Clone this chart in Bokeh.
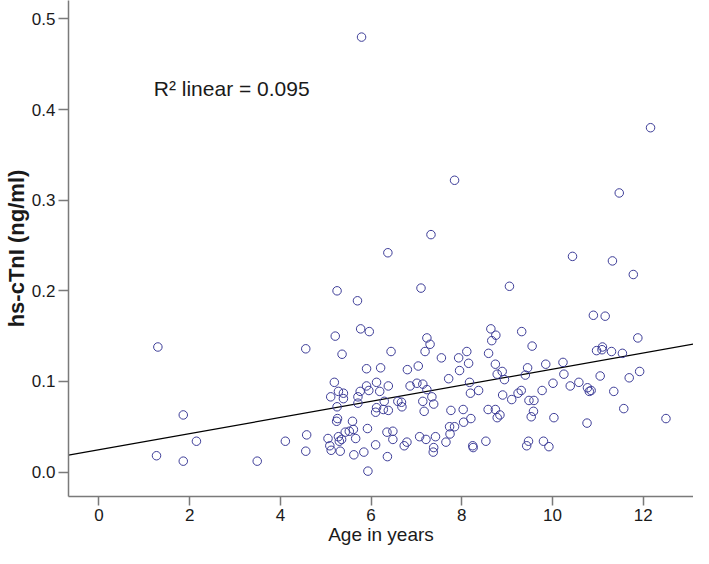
from bokeh.plotting import figure
from bokeh.models import Range1d, FixedTicker, Label, ColumnDataSource
from bokeh.embed import file_html
from bokeh.resources import INLINE
import numpy as np

# ---- data ----
age = [
    1.27, 1.30, 1.86, 1.86, 2.15, 3.49, 4.11,
    5.25, 5.70, 5.77, 5.96, 5.21, 4.56, 5.36, 6.44, 7.23, 7.30, 7.19, 5.90, 6.21,
    6.80, 7.04, 5.19, 6.12, 6.38, 5.90, 5.95, 5.76, 6.19, 5.28, 5.39, 5.11, 5.39,
    5.71, 6.86, 7.01, 7.14, 7.23, 7.34, 6.29, 6.59, 6.67, 7.14, 7.38, 5.25, 5.71,
    6.68, 6.12, 6.27, 6.38, 6.10, 7.17, 5.26, 5.24, 5.59, 5.92, 5.61, 4.58, 5.05,
    5.28, 5.43, 5.52, 5.35, 5.30, 5.66, 6.35, 6.48, 6.48, 6.10, 5.09, 5.12, 5.32,
    4.56, 5.62, 5.84, 6.36, 5.93, 7.07, 7.21, 6.79, 6.73, 7.38, 7.37, 7.42,
    8.64, 8.75, 8.66, 9.32, 9.55, 7.55, 7.93, 8.11, 8.15, 8.59, 7.95, 8.74, 8.78,
    8.89, 8.94, 7.71, 8.17, 8.37, 8.19, 9.45, 9.40, 9.85, 10.23, 10.25, 10.01,
    10.39, 9.77, 8.90, 9.31, 9.24, 9.10, 9.48, 9.59, 7.76, 8.03, 8.58, 8.74, 8.84,
    8.78, 9.58, 9.53, 10.03, 8.20, 8.04, 7.84, 7.73, 7.74, 7.65, 8.24, 8.25, 8.53,
    9.47, 9.43, 9.80, 9.92,
    10.90, 11.16, 11.88, 10.97, 11.10, 11.09, 11.30, 11.54, 11.05, 11.92, 11.69,
    10.58, 10.77, 10.81, 10.85, 11.35, 11.57, 10.76, 12.50,
    12.16, 7.84, 11.47, 7.32, 6.37, 10.44, 11.32, 11.78, 7.10, 9.05, 5.79,
]
ctni = [
    0.018, 0.138, 0.012, 0.063, 0.034, 0.012, 0.034,
    0.200, 0.189, 0.158, 0.155, 0.150, 0.136, 0.130, 0.133, 0.148, 0.141, 0.133, 0.114, 0.115,
    0.113, 0.117, 0.099, 0.099, 0.095, 0.095, 0.090, 0.089, 0.089, 0.089, 0.087, 0.083, 0.081,
    0.083, 0.095, 0.098, 0.097, 0.091, 0.083, 0.078, 0.078, 0.077, 0.078, 0.075, 0.072, 0.076,
    0.072, 0.071, 0.069, 0.068, 0.066, 0.067, 0.059, 0.056, 0.056, 0.048, 0.047, 0.041, 0.037,
    0.039, 0.044, 0.045, 0.036, 0.034, 0.037, 0.044, 0.045, 0.036, 0.030, 0.029, 0.024, 0.023,
    0.023, 0.019, 0.022, 0.017, 0.001, 0.039, 0.036, 0.033, 0.029, 0.027, 0.022, 0.039,
    0.158, 0.151, 0.145, 0.155, 0.139, 0.126, 0.126, 0.133, 0.120, 0.131, 0.112, 0.119, 0.108,
    0.111, 0.102, 0.103, 0.099, 0.090, 0.087, 0.115, 0.107, 0.119, 0.121, 0.108, 0.098,
    0.095, 0.090, 0.085, 0.090, 0.087, 0.080, 0.079, 0.079, 0.068, 0.069, 0.069, 0.069, 0.063,
    0.060, 0.067, 0.061, 0.060, 0.059, 0.055, 0.050, 0.050, 0.042, 0.033, 0.029, 0.027, 0.034,
    0.034, 0.029, 0.034, 0.028,
    0.173, 0.172, 0.148, 0.134, 0.138, 0.135, 0.133, 0.131, 0.106, 0.111, 0.104,
    0.099, 0.093, 0.089, 0.090, 0.089, 0.070, 0.054, 0.059,
    0.380, 0.322, 0.308, 0.262, 0.242, 0.238, 0.233, 0.218, 0.203, 0.205, 0.480,
]
x_ticks = [0, 2, 4, 6, 8, 10, 12]
y_ticks = [0.0, 0.1, 0.2, 0.3, 0.4, 0.5]
fit_intercept = 0.0246
fit_slope = 0.0089
r2_text = "R\u00b2 linear = 0.095"
x_title = "Age in years"
y_title = "hs-cTnI (ng/ml)"

FONT = "Liberation Sans"
x_start, x_end = -0.670, 13.107
y_start, y_end = -0.027, 0.5204

p = figure(width=693, height=548, output_backend="svg", toolbar_location=None,
           x_range=Range1d(x_start, x_end), y_range=Range1d(y_start, y_end),
           min_border_left=62, min_border_right=0, min_border_top=0, min_border_bottom=52)
p.outline_line_color = None
p.grid.visible = False
p.background_fill_color = "white"
p.border_fill_color = "white"

for ax in (p.xaxis[0], p.yaxis[0]):
    ax.axis_line_color = "#7a7a7a"
    ax.axis_line_width = 1.5
    ax.major_tick_line_color = "#7a7a7a"
    ax.major_tick_line_width = 1.5
    ax.minor_tick_line_color = None
    ax.major_tick_in = 0
    ax.major_label_text_font = FONT
    ax.major_label_text_font_size = "17px"
    ax.major_label_text_color = "#1a1a1a"
    ax.axis_label_text_font = FONT
    ax.axis_label_text_color = "#1a1a1a"

p.xaxis.ticker = FixedTicker(ticks=x_ticks)
p.yaxis.ticker = FixedTicker(ticks=y_ticks)
p.yaxis.major_label_overrides = {t: f"{t:.1f}" for t in y_ticks}
p.xaxis.major_label_overrides = {t: str(t) for t in x_ticks}
p.xaxis.major_tick_out = 9
p.yaxis.major_tick_out = 10
p.xaxis.major_label_standoff = 3
p.yaxis.major_label_standoff = 3

p.xaxis.axis_label = x_title
p.xaxis.axis_label_text_font_size = "19px"
p.xaxis.axis_label_text_font_style = "normal"
p.xaxis.axis_label_standoff = 0
p.yaxis.axis_label = y_title
p.yaxis.axis_label_text_font_size = "22px"
p.yaxis.axis_label_text_font_style = "bold"
p.yaxis.axis_label_standoff = 0

# regression line
fx = np.array([x_start, x_end])
p.line(fx, fit_intercept + fit_slope * fx, line_color="black", line_width=1.2)

src = ColumnDataSource(dict(age=age, ctni=ctni))
p.scatter("age", "ctni", source=src, marker="circle", size=8.5,
          fill_color=None, line_color="#3d3d98", line_width=1)

p.add_layout(Label(x=1.21, y=0.423, text=r2_text, text_font=FONT,
                   text_font_size="21px", text_color="#1a1a1a",
                   text_baseline="alphabetic", text_align="left"))

open("out.html", "w").write(file_html(p, INLINE))
